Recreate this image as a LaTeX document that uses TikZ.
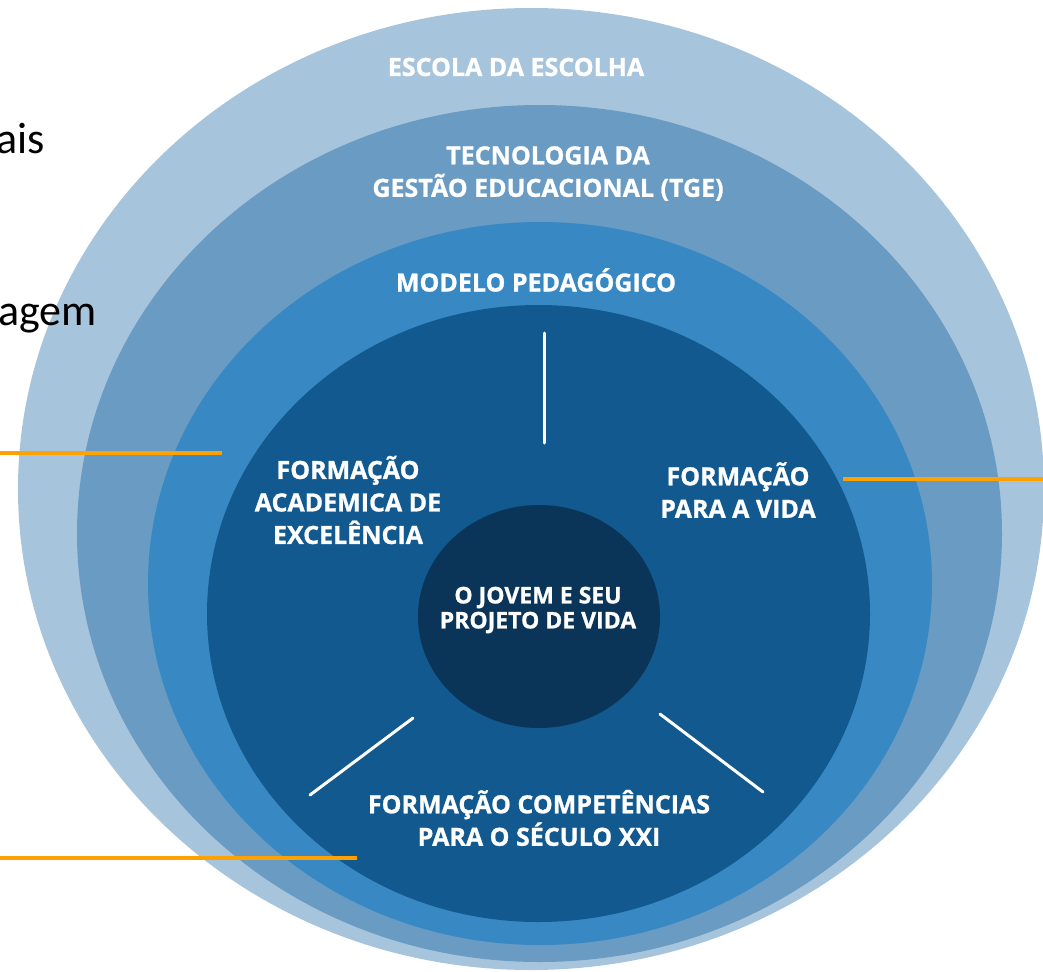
\documentclass[tikz,border=0pt]{standalone}
\usepackage{fontspec}
\setmainfont{Open Sans}[BoldFeatures={FakeBold=1}]
\newfontfamily\slidefont{Carlito}
\usetikzlibrary{shapes.geometric}
\definecolor{ringEscola}{HTML}{A7C4DD}
\definecolor{ringGestao}{HTML}{6A9BC3}
\definecolor{ringModelo}{HTML}{3888C4}
\definecolor{ringFormacao}{HTML}{11598F}
\definecolor{ringJovem}{HTML}{0A3558}
\definecolor{markOrange}{HTML}{FFA200}
\tikzstyle{fRing} = [ellipse, inner sep=0pt, draw=none]
\tikzstyle{fLabel} = [text=white, align=center, inner sep=0pt, font=\bfseries\fontsize{25}{32.5}\selectfont]
\tikzstyle{fCore} = [text=white, align=center, inner sep=0pt, font=\bfseries\fontsize{23}{25}\selectfont]
\tikzstyle{fSlide} = [text=black, inner sep=0pt, font=\slidefont\fontsize{44}{50}\selectfont]
\tikzstyle{fSpoke} = [white, line width=3pt, line cap=round]
\tikzstyle{fMarker} = [markOrange, line width=4pt]

\begin{document}
\begin{tikzpicture}[x=1pt, y=-1pt]
    \useasboundingbox (0,0) rectangle (1043,971);
    \node (escola) [fRing, fill=ringEscola, minimum width=1026pt, minimum height=962pt] at (531,489) {};
    \node (gestao) [fRing, fill=ringGestao, minimum width=925pt, minimum height=857pt] at (539.5,533.5) {};
    \node (modelo) [fRing, fill=ringModelo, minimum width=784pt, minimum height=723pt] at (540,583.5) {};
    \node (formacao) [fRing, fill=ringFormacao, minimum width=663pt, minimum height=617pt] at (538.5,613.5) {};
    \node (jovem) [fRing, fill=ringJovem, minimum width=242pt, minimum height=223pt] at (539,616.5) {};

    % slide text over the rings
    \node (textAis) [fSlide, anchor=base east] at (45,153) {ais};
    \node (textAgem) [fSlide, anchor=base east] at (97,325) {agem};

    \node (escolaText) [fLabel] at (516,67) {ESCOLA DA ESCOLHA};
    \node (gestaoText) [fLabel] at (548,173.5) {TECNOLOGIA DA\\GESTÃO EDUCACIONAL (TGE)};
    \node (modeloText) [fLabel] at (536,280) {MODELO PEDAGÓGICO};
    \node (academicaText) [fLabel] at (348,500) {FORMAÇÃO\\ACADEMICA DE\\EXCELÊNCIA};
    \node (vidaText) [fLabel] at (738,490) {FORMAÇÃO\\PARA A VIDA};
    \node (seculoText) [fLabel] at (539,818) {FORMAÇÃO COMPETÊNCIAS\\PARA O SÉCULO XXI};
    \node (jovemText) [fCore] at (538,610) {O JOVEM E SEU\\PROJETO DE VIDA};

    % spokes
    \coordinate (spokeTopA) at (544,333);
    \coordinate (spokeTopB) at (544,443);
    \coordinate (spokeLeftA) at (413,718);
    \coordinate (spokeLeftB) at (310,795);
    \coordinate (spokeRightA) at (660,714);
    \coordinate (spokeRightB) at (763,792);
    \draw [fSpoke] (spokeTopA) -- (spokeTopB);
    \draw [fSpoke] (spokeLeftA) -- (spokeLeftB);
    \draw [fSpoke] (spokeRightA) -- (spokeRightB);

    % orange markers
    \coordinate (markA) at (0,453);
    \coordinate (markB) at (843,479);
    \coordinate (markC) at (0,858);
    \draw [fMarker] (markA) -- (222,453);
    \draw [fMarker] (markB) -- (1043,479);
    \draw [fMarker] (markC) -- (357,858);
\end{tikzpicture}
\end{document}
